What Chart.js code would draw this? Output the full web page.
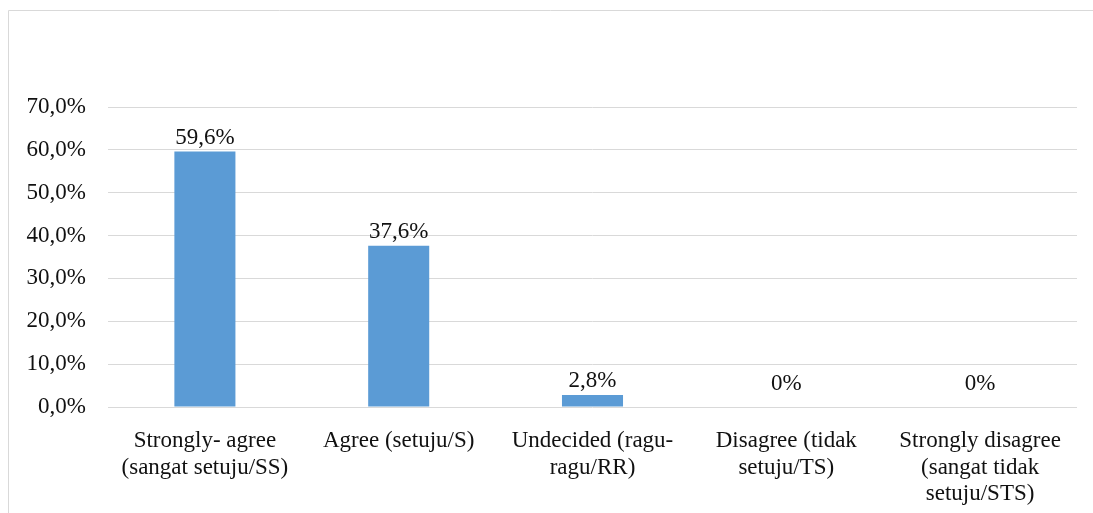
<!DOCTYPE html>
<html>
<head>
<meta charset="utf-8">
<script src="https://cdn.jsdelivr.net/npm/chart.js@4/dist/chart.umd.min.js"></script>
<style>
  html, body { margin: 0; padding: 0; overflow: hidden; background: #fff; }
  #wrap { position: absolute; left: 0; top: 0; width: 1093px; height: 513px; }
</style>
</head>
<body>
<div id="wrap"><canvas id="chart" width="1093" height="513"></canvas></div>
<script>
// Survey response categories (wrapped onto several lines)
const categories = [
  ['Strongly- agree', '(sangat setuju/SS)'],
  ['Agree (setuju/S)'],
  ['Undecided (ragu-', 'ragu/RR)'],
  ['Disagree (tidak', 'setuju/TS)'],
  ['Strongly disagree', '(sangat tidak', 'setuju/STS)']
];
// Share of respondents, in percent
const shares = [59.6, 37.6, 2.8, 0, 0];
// Y axis range and step, in percent
const yMin = 0;
const yMax = 70;
const yStep = 10;

const FONT = { family: '"Liberation Serif", "Times New Roman", serif', size: 23 };
const TEXT = '#111111';
const GRID = '#d9d9d9';
const BAR = '#5b9bd5';

function fmtTick(v) { return v.toFixed(1).replace('.', ',') + '%'; }
function fmtLabel(v) { return v === 0 ? '0%' : v.toFixed(1).replace('.', ',') + '%'; }

// Thin frame along the left and top of the chart
const frame = {
  id: 'frame',
  beforeDraw(chart) {
    const ctx = chart.ctx;
    ctx.save();
    ctx.strokeStyle = GRID;
    ctx.lineWidth = 1;
    ctx.beginPath();
    ctx.moveTo(8.5, chart.height);
    ctx.lineTo(8.5, 10.5);
    ctx.lineTo(chart.width, 10.5);
    ctx.stroke();
    ctx.restore();
  }
};

// Writes each bar's value just above it
const valueLabels = {
  id: 'valueLabels',
  afterDatasetsDraw(chart) {
    const ctx = chart.ctx;
    const meta = chart.getDatasetMeta(0);
    const base = chart.scales.y.getPixelForValue(0);
    ctx.save();
    ctx.font = FONT.size + 'px ' + FONT.family;
    ctx.fillStyle = TEXT;
    ctx.textAlign = 'center';
    ctx.textBaseline = 'alphabetic';
    meta.data.forEach((bar, i) => {
      const v = chart.data.datasets[0].data[i];
      const y = Math.min(bar.y - 8, base - 17);
      ctx.fillText(fmtLabel(v), bar.x, y);
    });
    ctx.restore();
  }
};

new Chart(document.getElementById('chart'), {
  type: 'bar',
  data: {
    labels: categories,
    datasets: [{
      data: shares,
      backgroundColor: BAR,
      borderWidth: 0,
      barPercentage: 0.315,
      categoryPercentage: 1
    }]
  },
  options: {
    responsive: false,
    animation: false,
    events: [],
    layout: { padding: { top: 107, right: 16, bottom: 0, left: 0 } },
    plugins: { legend: { display: false }, tooltip: { enabled: false } },
    scales: {
      x: {
        grid: { display: false },
        border: { display: false },
        ticks: {
          color: TEXT, font: { ...FONT, lineHeight: 1.15 },
          padding: 13, maxRotation: 0, autoSkip: false
        },
        afterFit(scale) { scale.height = 106; }
      },
      y: {
        min: yMin, max: yMax,
        grid: { color: GRID, lineWidth: 1, drawTicks: false },
        border: { display: false },
        ticks: {
          stepSize: yStep, color: TEXT, font: FONT, padding: 22,
          callback: (v) => fmtTick(v)
        },
        afterFit(scale) { scale.width = 108; }
      }
    }
  },
  plugins: [frame, valueLabels]
});
</script>
</body>
</html>
